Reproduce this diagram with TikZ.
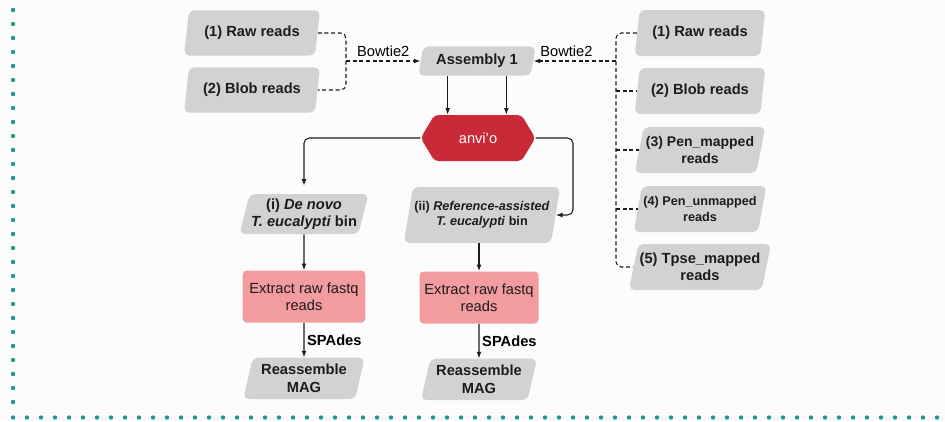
\documentclass[tikz,border=0pt]{standalone}
\usepackage{fontspec}
\setmainfont{Liberation Sans}
\usepackage{tikz}
\usetikzlibrary{positioning,arrows.meta,shapes.geometric,shapes.symbols,calc}
\definecolor{readgray}{RGB}{210,210,212}
\definecolor{extractpink}{RGB}{243,156,159}
\definecolor{anvired}{RGB}{201,42,56}
\definecolor{dotteal}{RGB}{24,152,142}
\definecolor{inkdark}{RGB}{30,27,28}
\definecolor{pagebg}{RGB}{253,252,253}
\tikzset{
  rbox/.style   = {trapezium, trapezium left angle=73, trapezium right angle=107, trapezium stretches body,
                   rounded corners=4pt, fill=readgray, align=center, font=\bfseries, text=inkdark, inner sep=1pt},
  rcol/.style   = {rbox, minimum width=98pt, minimum height=34.5pt},
  ebox/.style   = {rectangle, rounded corners=3pt, fill=extractpink, align=center, text=inkdark,
                   minimum width=92pt, minimum height=39pt},
  hexbox/.style = {signal, signal to=west and east, signal pointer angle=118, rounded corners=3pt,
                   fill=anvired, text=white, minimum width=86pt, minimum height=34.5pt},
  flow/.style   = {-{Latex[length=5pt,width=3.6pt]}, line width=0.8pt, draw=inkdark},
  dline/.style  = {line width=0.8pt, draw=inkdark, dash pattern=on 3pt off 2pt},
  dflow/.style  = {flow, dash pattern=on 3pt off 2pt},
  dots/.style   = {dotteal, line width=3.3pt, line cap=round, dash pattern=on 0pt off 10.5pt},
}
\newcommand{\smallbf}{\bfseries\fontsize{9.5}{11.5}\selectfont}

\begin{document}
\fontsize{11}{13}\selectfont
\begin{tikzpicture}[x=0.75pt, y=-0.75pt]
  \fill[pagebg] (0,0) rectangle (945,421);
  \useasboundingbox (0,0) rectangle (945,421);
  % frame dots
  \draw[dots] (13,10) -- (13,404);
  \draw[dots] (13,417.5) -- (945,417.5);

  % read sets
  \node[rbox, minimum width=102pt, minimum height=34pt] (rawL) at (252,33) {(1) Raw reads};
  \node[rbox, minimum width=102pt, minimum height=34pt] (blobL) at (252,90) {(2) Blob reads};
  \node[rcol] (rawR) at (700,33) {(1) Raw reads};
  \node[rcol] (blobR) at (700,91) {(2) Blob reads};
  \node[rcol, font=\bfseries\fontsize{10.5}{12.5}\selectfont] (penmR) at (700,150) {(3) Pen\_mapped\\reads};
  \node[rcol, font=\smallbf] (penuR) at (700,209) {(4) Pen\_unmapped\\reads};
  \node[rcol] (tpseR) at (700,267) {(5) Tpse\_mapped\\reads};

  \node[rbox, minimum width=88pt, minimum height=22pt] (asm) at (477,61) {Assembly 1};
  \node[hexbox] (anvio) at (478,138) {anvi'o};

  % bins and reassembly
  \node[rbox, minimum width=91pt, minimum height=30pt] (denovo) at (304,214) {(i) \textit{De novo}\\\textit{T. eucalypti} bin};
  \node[rbox, font=\smallbf, minimum width=110pt, minimum height=42pt] (refbin) at (482,215) {(ii) \textit{Reference-assisted}\\\textit{T. eucalypti} bin};
  \node[ebox, below=27pt of denovo] (extL) {Extract raw fastq\\reads};
  \node[rbox, minimum width=91pt, minimum height=31pt, below=26pt of extL] (mapL) {Reassemble\\MAG};
  \node[ebox, minimum width=89pt, below=21pt of refbin, xshift=-2.25pt] (extR) {Extract raw fastq\\reads};
  \node[rbox, minimum width=87pt, minimum height=31pt, below=26pt of extR] (mapR) {Reassemble\\MAG};

  % mapping
  \coordinate (jl) at (346,61);
  \coordinate (jr) at (616,61);
  \coordinate (jref) at (573,180);
  \draw[dline, rounded corners=4pt] (rawL.east) -| (jl) |- (blobL.east);
  \draw[dflow] (jl) -- node[above, inner sep=3pt] {Bowtie2} (asm.west);
  \draw[dline, rounded corners=4pt] (rawR.west) -| (jr) |- (tpseR.west);
  \foreach \n in {blobR,penmR,penuR}
    \draw[dline] (\n.west -| jr) -- (\n.west);
  \draw[dflow] (jr) -- node[above, pos=0.6, inner sep=3pt] {Bowtie2} (asm.east);

  \draw[flow] ([xshift=-22pt]asm.south) -- ([xshift=-22pt]asm.south |- anvio.north);
  \draw[flow] ([xshift=22pt]asm.south) -- ([xshift=22pt]asm.south |- anvio.north);
  \draw[flow, rounded corners=4pt, shorten >=6pt] (anvio.west) -| (denovo.north);
  \draw[flow, rounded corners=4pt] (anvio.east) -| (jref) |- (refbin.east);

  \draw[flow] (denovo) -- (extL);
  \draw[flow] (extL) -- node[right, font=\bfseries, inner sep=2pt] {SPAdes} (mapL);
  \draw[flow] (refbin.south -| extR) -- (extR);
  \draw[flow] (extR) -- node[right, font=\bfseries, inner sep=2pt] {SPAdes} (mapR);
\end{tikzpicture}
\end{document}
